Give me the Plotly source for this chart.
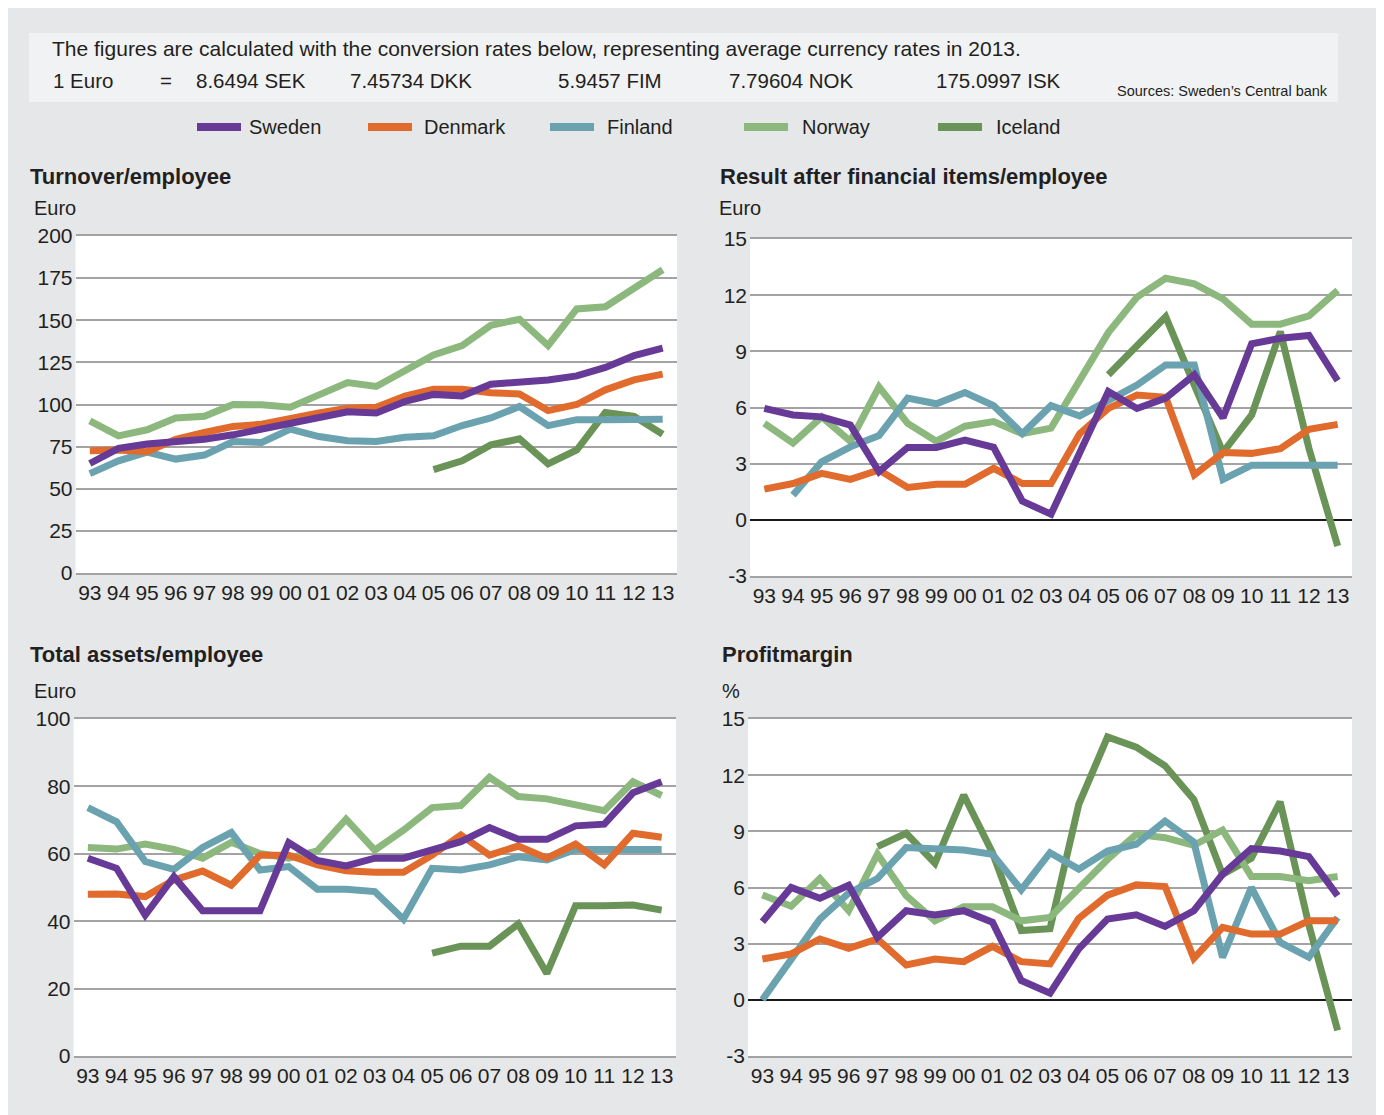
import plotly.graph_objects as go

# figure size (page has an 8px body margin around the figure)
W, H = 1372, 1107
OFF = 8

years = ["93", "94", "95", "96", "97", "98", "99", "00", "01", "02", "03",
         "04", "05", "06", "07", "08", "09", "10", "11", "12", "13"]

countries = ["Sweden", "Denmark", "Finland", "Norway", "Iceland"]
colors = {"Sweden": "#663a96", "Denmark": "#e06b2d", "Finland": "#6aa2b0",
          "Norway": "#8cb87e", "Iceland": "#6a9357"}

# Turnover/employee (Euro)
turn_sweden = [65, 74, 76.5, 77.7, 79.4, 82, 85.4, 89.5, 92.3, 95.7, 94.9, 101.8, 106, 105, 112, 113, 114.6, 117, 122, 129, 133.4]
turn_denmark = [72.5, 73, 72, 79.4, 83.4, 87, 88.3, 92, 95, 97.8, 98.4, 105, 109, 109, 107, 106.3, 96.4, 100, 108.7, 114.6, 118]
turn_finland = [59, 66.6, 71.7, 67.6, 70, 78, 77.5, 85.4, 81, 78.5, 78, 80.6, 81.4, 87.5, 92, 98.8, 87.5, 91, 91, 91, 91.3]
turn_norway = [90.3, 81.4, 85, 92, 93, 100, 99.8, 98.4, 105.7, 113, 110.7, 120.5, 129.4, 135, 147, 150.6, 135, 156.7, 158, 169, 180]
turn_iceland = [None] * 12 + [61.3, 66.6, 76, 79.6, 64.8, 73, 95.3, 93, 82.4]

# Result after financial items/employee (Euro)
res_sweden = [5.95, 5.6, 5.5, 5.06, 2.57, 3.87, 3.87, 4.26, 3.87, 1.0, 0.3, 3.55, 6.85, 5.95, 6.5, 7.75, 5.45, 9.4, 9.7, 9.85, 7.43]
res_denmark = [1.64, 1.94, 2.48, 2.16, 2.66, 1.73, 1.9, 1.9, 2.75, 1.94, 1.94, 4.6, 5.95, 6.67, 6.55, 2.4, 3.6, 3.55, 3.8, 4.83, 5.1]
res_finland = [None, 1.32, 3.1, 3.9, 4.5, 6.5, 6.2, 6.8, 6.1, 4.6, 6.1, 5.55, 6.4, 7.2, 8.27, 8.27, 2.16, 2.92, 2.92, 2.92, 2.92]
res_norway = [5.15, 4.1, 5.5, 4.2, 7.1, 5.15, 4.2, 5.0, 5.25, 4.6, 4.9, 7.5, 10.0, 11.9, 12.9, 12.6, 11.8, 10.45, 10.45, 10.9, 12.25]
res_iceland = [None] * 12 + [7.75, 9.3, 10.85, 7.2, 3.6, 5.6, 10.05, 3.8, -1.4]

# Total assets/employee (Euro)
assets_sweden = [58.7, 55.7, 41.8, 53.2, 43.1, 43.1, 43.1, 63.3, 58, 56.4, 58.7, 58.7, 61.1, 63.6, 67.8, 64.3, 64.3, 68.3, 68.8, 78.1, 81.4]
assets_denmark = [48, 48.1, 47.3, 52.2, 54.9, 50.7, 59.6, 59.6, 56.7, 55, 54.5, 54.5, 59.6, 65.6, 59.6, 62.3, 58.7, 62.9, 56.7, 66.1, 64.9]
assets_finland = [73.7, 69.5, 57.7, 55.4, 61.9, 66.3, 55.2, 56.2, 49.5, 49.5, 48.8, 40.6, 55.7, 55.2, 56.7, 59.1, 58.2, 61.3, 61.3, 61.3, 61.3]
assets_norway = [61.9, 61.4, 62.9, 61.3, 58.7, 63.4, 60.1, 58.7, 60.9, 70.3, 61.1, 67, 73.7, 74.3, 82.7, 77, 76.3, 74.8, 72.8, 81.4, 77.3]
assets_iceland = [None] * 12 + [30.5, 32.6, 32.6, 39.2, 24.5, 44.6, 44.6, 44.8, 43.3]

# Profitmargin (%)
pm_sweden = [4.17, 6.0, 5.43, 6.12, 3.34, 4.76, 4.53, 4.76, 4.14, 1.03, 0.36, 2.72, 4.31, 4.54, 3.92, 4.76, 6.71, 8.08, 7.95, 7.65, 5.56]
pm_denmark = [2.18, 2.45, 3.25, 2.75, 3.25, 1.86, 2.18, 2.04, 2.86, 2.04, 1.92, 4.35, 5.59, 6.14, 6.05, 2.22, 3.87, 3.51, 3.51, 4.22, 4.22]
pm_finland = [0, 2.2, 4.31, 5.7, 6.48, 8.13, 8.04, 8.0, 7.78, 5.88, 7.86, 6.98, 7.95, 8.31, 9.55, 8.43, 2.27, 6.0, 3.07, 2.27, 4.4]
pm_norway = [5.6, 5.0, 6.48, 4.76, 7.78, 5.56, 4.22, 4.97, 4.97, 4.22, 4.4, 6.0, 7.5, 8.84, 8.66, 8.25, 9.07, 6.59, 6.59, 6.36, 6.59]
pm_iceland = [None] * 4 + [8.18, 8.9, 7.3, 10.94, 7.86, 3.7, 3.8, 10.44, 14.04, 13.5, 12.5, 10.7, 6.7, 7.56, 10.58, 4.0, -1.63]

charts = [
    {"title": "Turnover/employee", "unit": "Euro",
     "data": {"Sweden": turn_sweden, "Denmark": turn_denmark, "Finland": turn_finland,
              "Norway": turn_norway, "Iceland": turn_iceland},
     "ticks": [0, 25, 50, 75, 100, 125, 150, 175, 200]},
    {"title": "Result after financial items/employee", "unit": "Euro",
     "data": {"Sweden": res_sweden, "Denmark": res_denmark, "Finland": res_finland,
              "Norway": res_norway, "Iceland": res_iceland},
     "ticks": [-3, 0, 3, 6, 9, 12, 15]},
    {"title": "Total assets/employee", "unit": "Euro",
     "data": {"Sweden": assets_sweden, "Denmark": assets_denmark, "Finland": assets_finland,
              "Norway": assets_norway, "Iceland": assets_iceland},
     "ticks": [0, 20, 40, 60, 80, 100]},
    {"title": "Profitmargin", "unit": "%",
     "data": {"Sweden": pm_sweden, "Denmark": pm_denmark, "Finland": pm_finland,
              "Norway": pm_norway, "Iceland": pm_iceland},
     "ticks": [-3, 0, 3, 6, 9, 12, 15]},
]

# page-pixel boxes of the plot areas: (left, right, top, bottom)
boxes = [(75.5, 677, 236, 573), (750, 1352, 239, 576),
         (73.5, 676, 719, 1056), (748, 1352, 719, 1056)]
title_pos = [(28, 177), (718, 177), (28, 654), (720, 654)]
unit_pos = [(32, 208), (717, 208), (32, 691), (720, 691)]

FONT = "Liberation Sans, Arial, sans-serif"
TXT = "#231f20"
GRID = "#a3a3a3"

def xp(px):
    return (px - OFF) / W

def yp(py):
    return 1 - (py - OFF) / H

fig = go.Figure()
draw_order = ["Iceland", "Norway", "Finland", "Denmark", "Sweden"]
for i, ch in enumerate(charts):
    sfx = "" if i == 0 else str(i + 1)
    for c in draw_order:
        fig.add_trace(go.Scatter(
            x=years, y=ch["data"][c], mode="lines", name=c,
            line=dict(color=colors[c], width=7),
            connectgaps=False, showlegend=False,
            xaxis="x" + sfx, yaxis="y" + sfx,
        ))

layout = dict(
    width=W, height=H,
    margin=dict(l=0, r=0, t=0, b=0, autoexpand=False),
    paper_bgcolor="#e6e7e9",
    plot_bgcolor="#ffffff",
    font=dict(family=FONT, color=TXT, size=20),
    showlegend=False,
)
for i, ch in enumerate(charts):
    sfx = "" if i == 0 else str(i + 1)
    l, r, t, b = boxes[i]
    layout["xaxis" + sfx] = dict(
        domain=[xp(l), xp(r)], anchor="y" + sfx, type="category",
        range=[-0.5, 20.5], showgrid=False, zeroline=False,
        showline=True, mirror=True, linecolor=GRID, linewidth=1.5,
        ticks="", tickfont=dict(size=21, color=TXT), ticklabelstandoff=0,
        fixedrange=True,
    )
    tv = ch["ticks"]
    yax = dict(
        domain=[yp(b), yp(t)], anchor="x" + sfx,
        range=[tv[0], tv[-1]], tickmode="array", tickvals=tv,
        ticktext=[str(v) for v in tv],
        showgrid=True, gridcolor=GRID, gridwidth=1.5,
        showline=False, ticks="", tickfont=dict(size=21, color=TXT),
        ticklabelstandoff=2, fixedrange=True,
    )
    if tv[0] < 0:
        yax.update(zeroline=True, zerolinecolor="#1a1a1a", zerolinewidth=1.5)
    else:
        yax.update(zeroline=False)
    layout["yaxis" + sfx] = yax

shapes = []
# header box
shapes.append(dict(type="rect", xref="paper", yref="paper", x0=xp(29), x1=xp(1338),
                   y0=yp(102), y1=yp(33), fillcolor="#f1f2f4", line=dict(width=0), layer="below"))

annotations = []

def text(s, x, y, size=20, bold=False, anchor="left"):
    annotations.append(dict(
        text=("<b>%s</b>" % s) if bold else s, xref="paper", yref="paper",
        x=xp(x), y=yp(y), xanchor=anchor, yanchor="middle", showarrow=False,
        font=dict(family=FONT, size=size, color=TXT),
    ))

# header
text("The figures are calculated with the conversion rates below, representing average currency rates in 2013.", 50, 49, 21)
rate_labels = ["1 Euro", "=", "8.6494 SEK", "7.45734 DKK", "5.9457 FIM", "7.79604 NOK", "175.0997 ISK"]
rate_x = [51, 158, 194, 348, 556, 727, 934]
for s, x in zip(rate_labels, rate_x):
    text(s, x, 80, 20.5)
text("Sources: Sweden\u2019s Central bank", 1115, 91, 14.5)

# legend
legend_swatch_x = [197, 368, 550, 744, 938]
legend_text_x = [247, 422, 605, 800, 994]
for c, sx, tx in zip(countries, legend_swatch_x, legend_text_x):
    shapes.append(dict(type="rect", xref="paper", yref="paper", x0=xp(sx), x1=xp(sx + 44),
                       y0=yp(131), y1=yp(123), fillcolor=colors[c], line=dict(width=0)))
    text(c, tx, 127, 20)

for i, ch in enumerate(charts):
    tx, ty = title_pos[i]
    text(ch["title"], tx, ty, 22, bold=True)
    ux, uy = unit_pos[i]
    text(ch["unit"], ux, uy, 20)

layout["shapes"] = shapes
layout["annotations"] = annotations
fig.update_layout(**layout)
fig.write_html("out.html")
